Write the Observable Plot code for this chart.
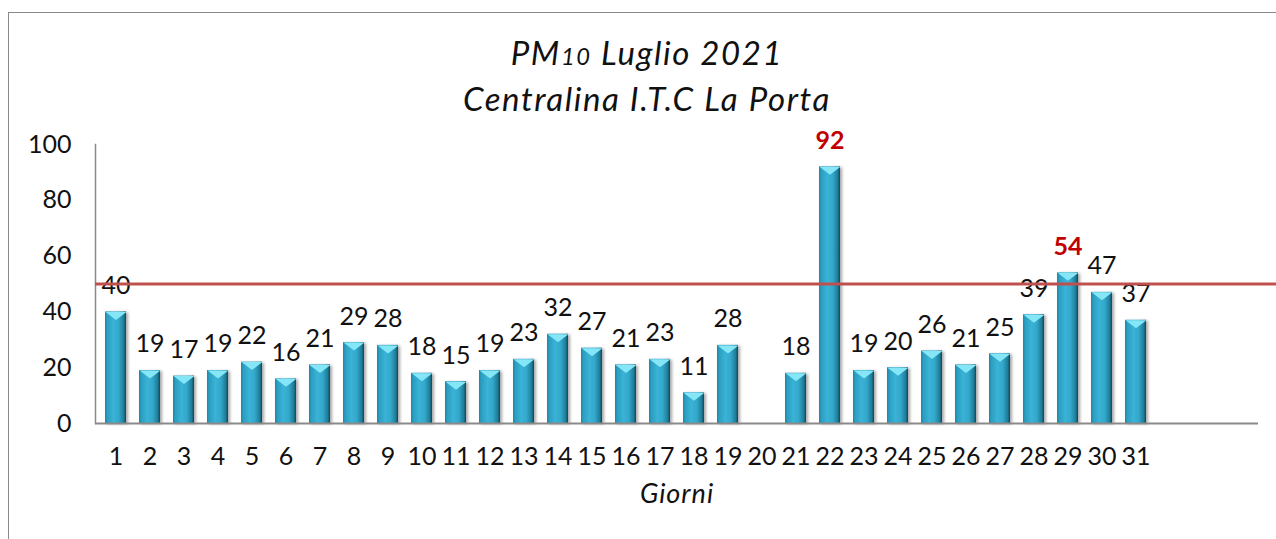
<!DOCTYPE html>
<html>
<head>
<meta charset="utf-8">
<script src="https://cdn.jsdelivr.net/npm/d3@7"></script>
<script src="https://cdn.jsdelivr.net/npm/@observablehq/plot@0.6"></script>
<style>
  html, body { margin: 0; padding: 0; background: #fff; overflow: hidden; }
  body { width: 1276px; height: 539px; position: relative; font-family: Lato, "Noto Sans", sans-serif; }
  #frame { position: absolute; left: 8px; top: 12px; width: 1400px; height: 700px; border: 1.5px solid #8a8a8a; box-sizing: border-box; z-index: 0; }
  #title { position: relative; z-index: 1; height: 120px; width: 1294px; text-align: center; font-style: italic; font-size: 33px; letter-spacing: 1.6px; color: #111; }
  #title .l1 { position: absolute; left: 0; width: 100%; top: 33px; line-height: 38px; }
  #title .l2 { position: absolute; left: 0; width: 100%; top: 79px; line-height: 38px; }
  #title .sm { font-size: 0.72em; }
  #chart { position: relative; z-index: 1; }
</style>
</head>
<body>
<div id="frame"></div>
<div id="title"><div class="l1">PM<span class="sm">10</span> Luglio 2021</div><div class="l2">Centralina I.T.C La Porta</div></div>
<div id="chart"></div>
<script>
const days = ["1","2","3","4","5","6","7","8","9","10","11","12","13","14","15","16","17","18","19","20","21","22","23","24","25","26","27","28","29","30","31"];
const values = [40,19,17,19,22,16,21,29,28,18,15,19,23,32,27,21,23,11,28,null,18,92,19,20,26,21,25,39,54,47,37];
const emptySlots = [" ", "  ", "   "];
const yTicks = [0,20,40,60,80,100];
const limit = 50;
const xLabel = "Giorni";

const data = days.map((d, i) => ({day: d, value: values[i]})).filter(d => d.value != null);

const cap = {
  draw(ctx) {
    ctx.moveTo(-10.5, 0);
    ctx.lineTo(10.5, 0);
    ctx.lineTo(0, 8);
    ctx.closePath();
  }
};

const chart = Plot.plot({
  width: 1276,
  height: 419,
  marginTop: 24,
  marginBottom: 116,
  marginLeft: 95,
  marginRight: 0,
  style: {fontFamily: "Lato, 'Noto Sans', sans-serif", fontSize: "25px", color: "#111", background: "transparent"},
  x: {domain: [...days, ...emptySlots], range: [95, 1258], paddingInner: 0.387, paddingOuter: 0.19, label: null},
  y: {domain: [0, 100], label: null},
  marks: [
    Plot.axisY({ticks: yTicks, tickSize: 0, tickPadding: 24, label: null, fontSize: 25}),
    Plot.axisX({tickSize: 0, tickPadding: 24, label: null, fontSize: 25}),
    Plot.frame({anchor: "left", stroke: "#8a8a8a", strokeWidth: 1.5}),
    Plot.barY(data, {x: "day", y: "value", fill: "url(#barGrad)"}),
    Plot.dot(data, {x: "day", y: "value", symbol: cap, fill: "#84e6f6", stroke: "none", r: 5}),
    Plot.ruleY([0], {stroke: "#8a8a8a", strokeWidth: 2, insetRight: 18}),
    Plot.text(data.filter(d => d.value <= limit), {x: "day", y: "value", text: d => String(d.value), dy: -26, lineAnchor: "middle", fill: "#111", fontSize: 25}),
    Plot.text(data.filter(d => d.value > limit), {x: "day", y: "value", text: d => String(d.value), dy: -26, lineAnchor: "middle", fill: "#c00000", fontWeight: "bold", fontSize: 25}),
    Plot.ruleY([limit], {stroke: "#c0504d", strokeWidth: 3}),
    Plot.text([xLabel], {frameAnchor: "bottom", dx: -9, dy: 79, fontStyle: "italic", fontSize: 27, fill: "#111"})
  ]
});

const svg = d3.select(chart);
const defs = svg.insert("defs", ":first-child");
const g = defs.append("linearGradient").attr("id", "barGrad").attr("x1", "0").attr("x2", "1").attr("y1", "0").attr("y2", "0");
[["0%", "#1e86a6"], ["12%", "#2c9fc2"], ["40%", "#3ab3d6"], ["65%", "#33a8cb"], ["88%", "#1f7f9c"], ["100%", "#0e4759"]]
  .forEach(([o, c]) => g.append("stop").attr("offset", o).attr("stop-color", c));
svg.selectAll('g[aria-label="bar"]').style("filter", "drop-shadow(2px 1px 1.5px rgba(0,0,0,0.35))");
svg.selectAll('g[aria-label="text"]').filter((d, i, n) => n[i].textContent === xLabel).style("letter-spacing", "1px");

document.getElementById("chart").appendChild(chart);
</script>
</body>
</html>
